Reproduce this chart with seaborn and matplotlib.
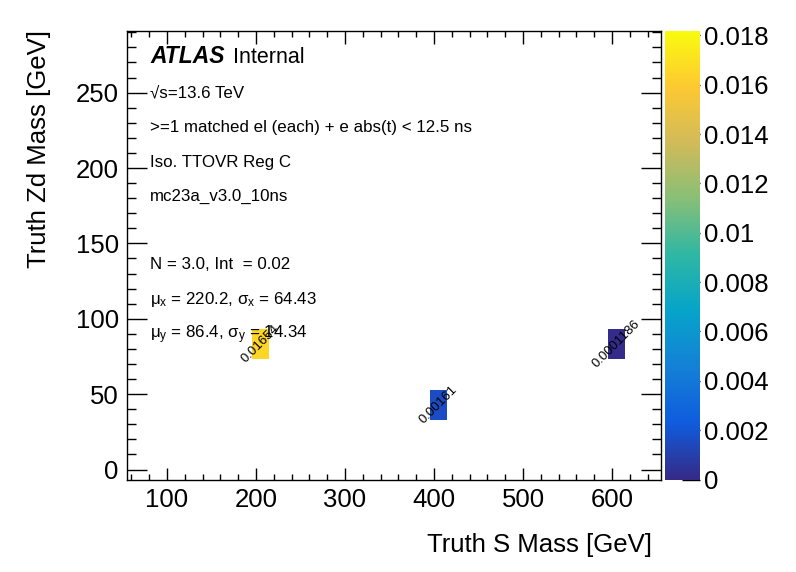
import numpy as np
import pandas as pd
import matplotlib
matplotlib.use("Agg")
import matplotlib.pyplot as plt
from matplotlib.colors import LinearSegmentedColormap
from matplotlib.ticker import MultipleLocator
import seaborn as sns

# data
s_mass = [205, 405, 605]          # bin centres, Truth S mass [GeV]
zd_mass = [83, 43, 83]            # bin centres, Truth Zd mass [GeV]
weights = [0.01654, 0.00161, 0.0001186]
cbar_ticks = [0, 0.002, 0.004, 0.006, 0.008, 0.01, 0.012, 0.014, 0.016, 0.018]
info_lines = [
    "\u221as=13.6 TeV",
    ">=1 matched el (each) + e abs(t) < 12.5 ns",
    "Iso. TTOVR Reg C",
    "mc23a_v3.0_10ns",
]
stat_lines = [
    "N = 3.0, Int  = 0.02",
    r"$\mathrm{\mu}_{\mathrm{x}}$ = 220.2, $\mathrm{\sigma}_{\mathrm{x}}$ = 64.43",
    r"$\mathrm{\mu}_{\mathrm{y}}$ = 86.4, $\mathrm{\sigma}_{\mathrm{y}}$ = 14.34",
]

df = pd.DataFrame({"S": s_mass, "Zd": zd_mass, "w": weights})

# ROOT kBird palette
stops = [0.0, 0.125, 0.25, 0.375, 0.5, 0.625, 0.75, 0.875, 1.0]
red = [0.2082, 0.0592, 0.0780, 0.0232, 0.1802, 0.5301, 0.8186, 0.9956, 0.9764]
green = [0.1664, 0.3599, 0.5041, 0.6419, 0.7178, 0.7492, 0.7328, 0.7862, 0.9832]
blue = [0.5293, 0.8684, 0.8385, 0.7914, 0.6425, 0.4662, 0.3499, 0.1968, 0.0539]
bird = LinearSegmentedColormap.from_list(
    "bird", [(s, (r, g, b)) for s, r, g, b in zip(stops, red, green, blue)])

sns.set_style("ticks")
plt.rcParams["font.family"] = ["Liberation Sans", "DejaVu Sans"]
plt.rcParams["mathtext.fontset"] = "custom"
plt.rcParams["mathtext.rm"] = "Liberation Sans"
plt.rcParams["mathtext.it"] = "Liberation Sans:italic"
plt.rcParams["mathtext.bf"] = "Liberation Sans:bold"
for key in ["text.color", "axes.labelcolor", "xtick.color", "ytick.color", "axes.edgecolor"]:
    plt.rcParams[key] = "black"

W, H = 796, 572
fig = plt.figure(figsize=(W / 100, H / 100), dpi=100)
ax = fig.add_axes([127 / W, 1 - 479.5 / H, 534 / W, 449 / H])
cax = fig.add_axes([665 / W, 1 - 479.5 / H, 35 / W, 449 / H])

zmax = max(weights) * 1.1
sns.histplot(data=df, x="S", y="Zd", weights="w", binwidth=20,
             binrange=((55, 655), (-7, 293)), cmap=bird, vmin=0, vmax=zmax,
             cbar=True, cbar_ax=cax, ax=ax)

for xv, yv, wv in zip(s_mass, zd_mass, weights):
    ax.text(xv, yv, f"{wv:.4g}", rotation=45, ha="center", va="center",
            fontsize=9.5, color="black")

ax.set_xlim(55, 655)
ax.set_ylim(-6.6, 291.2)
ax.set_xlabel("")
ax.set_ylabel("")
ax.xaxis.set_major_locator(MultipleLocator(100))
ax.xaxis.set_minor_locator(MultipleLocator(20))
ax.yaxis.set_major_locator(MultipleLocator(50))
ax.yaxis.set_minor_locator(MultipleLocator(10))
ax.tick_params(axis="both", which="both", direction="in", top=True, right=True,
               labelsize=18.5, width=1, color="black")
ax.tick_params(axis="x", which="major", length=9, pad=6)
ax.tick_params(axis="x", which="minor", length=4.5)
ax.tick_params(axis="y", which="major", length=14.5, pad=6)
ax.tick_params(axis="y", which="minor", length=6.5)
for sp in ax.spines.values():
    sp.set_visible(True)
    sp.set_linewidth(1)
    sp.set_color("black")

cax.set_ylim(0, zmax)
cax.set_yticks(cbar_ticks)
cax.set_yticklabels([f"{t:g}" for t in cbar_ticks])
cax.yaxis.set_ticks_position("right")
cax.minorticks_off()
cax.tick_params(axis="y", direction="in", length=13, width=1, labelsize=18.5, pad=3)
cax.spines["outline"].set_visible(False)

fig.text(652 / W, 1 - 545 / H, "Truth S Mass [GeV]", ha="right", va="center", fontsize=18.5)
fig.text(39 / W, 1 - 30 / H, "Truth Zd Mass [GeV]", rotation=90, ha="center", va="top",
         fontsize=18.5)

fig.text(150 / W, 1 - 62.7 / H, "ATLAS", fontsize=16.5, fontweight="bold",
         fontstyle="italic", va="baseline")
fig.text(233 / W, 1 - 62.7 / H, "Internal", fontsize=15.5, va="baseline")
for i, line in enumerate(info_lines):
    fig.text(150 / W, 1 - (97.7 + 34.4 * i) / H, line, fontsize=12.2, va="baseline")
for i, line in enumerate(stat_lines):
    fig.text(150 / W, 1 - (269.3 + 34.4 * i) / H, line, fontsize=12.2, va="baseline")

fig.savefig("out.png", dpi=100)
